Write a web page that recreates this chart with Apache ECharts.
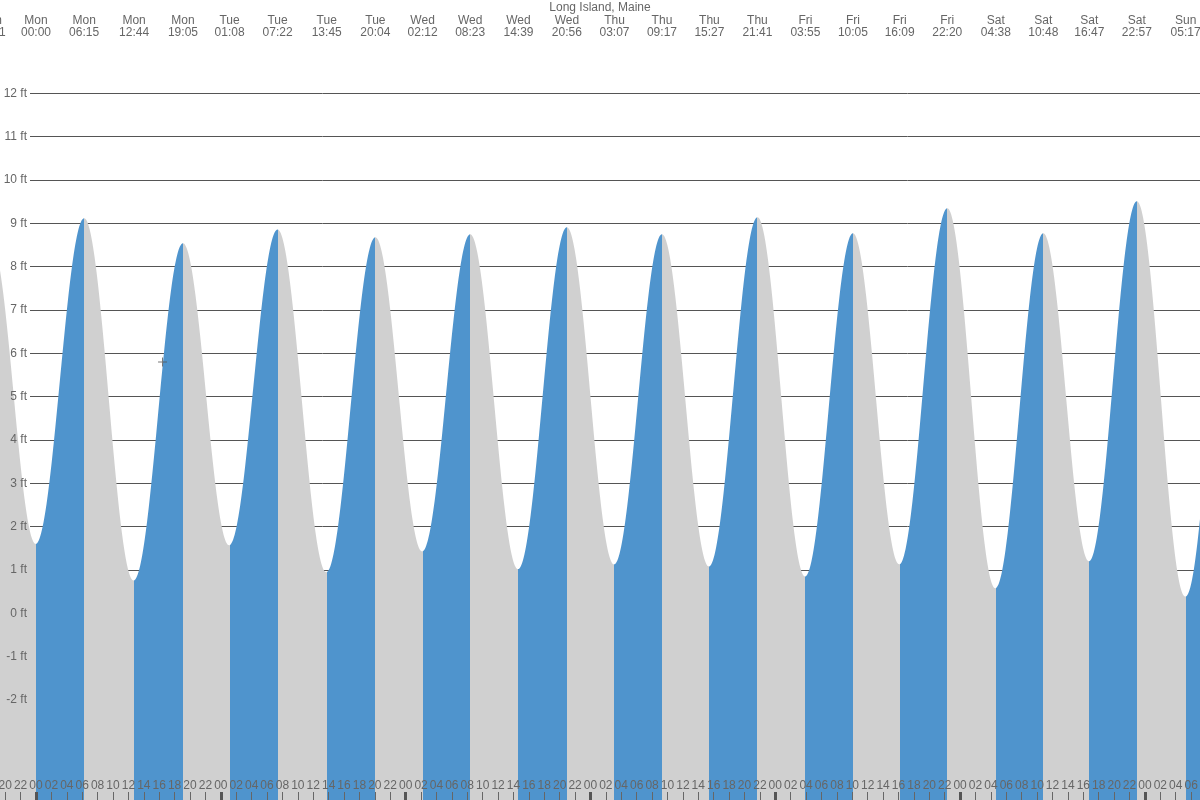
<!DOCTYPE html>
<html><head><meta charset="utf-8">
<script src="https://cdn.jsdelivr.net/npm/echarts@6/dist/echarts.min.js"></script>
<style>html,body{margin:0;padding:0;background:#fff}#c{width:1200px;height:800px}</style>
</head><body><div id="c"></div>
<script>
// ---- data (first and last entries lie outside the visible window) ----
const chartTitle = 'Long Island, Maine';
const tideDays    = ['Sun','Sun','Mon','Mon','Mon','Mon','Tue','Tue','Tue','Tue','Wed','Wed','Wed','Wed','Thu','Thu','Thu','Thu','Fri','Fri','Fri','Fri','Sat','Sat','Sat','Sat','Sun','Sun','Sun'];
const tideTimes   = ['11:50','18:11','00:00','06:15','12:44','19:05','01:08','07:22','13:45','20:04','02:12','08:23','14:39','20:56','03:07','09:17','15:27','21:41','03:55','10:05','16:09','22:20','04:38','10:48','16:47','22:57','05:17','11:30','17:45'];
const tideHeights = [1.0, 8.57, 1.6, 9.12, 0.76, 8.54, 1.57, 8.86, 0.95, 8.68, 1.43, 8.75, 1.02, 8.91, 1.13, 8.75, 1.08, 9.14, 0.85, 8.77, 1.13, 9.35, 0.58, 8.77, 1.2, 9.51, 0.39, 9.0, 1.3];
const heightTicks = [-2,-1,0,1,2,3,4,5,6,7,8,9,10,11,12];
const nowMarker = [16.43, 5.8];          // [hours from Mon 00:00, ft]
const hourStart = -4.675, hourEnd = 151.15; // visible window, hours from Mon 00:00
const heightMin = -4.308, heightMax = 12;

// ---- derived ----
const dayOrder = ['Sun','Mon','Tue','Wed','Thu','Fri','Sat','Sun'];
let dayPtr = 0;
const tideHours = tideDays.map((d, i) => {
  while (dayOrder[dayPtr] !== d) dayPtr++;
  const [hh, mm] = tideTimes[i].split(':').map(Number);
  return (dayPtr - 1) * 24 + hh + mm / 60;
});
const labelByMinute = {};
tideHours.forEach((h, i) => { labelByMinute[Math.round(h * 60)] = tideDays[i] + '\n' + tideTimes[i]; });
const seriesData = tideHours.map((h, i) => [h, tideHeights[i]]);

const hourTicks = [];
for (let h = Math.ceil(hourStart / 2) * 2; h <= hourEnd; h += 2) hourTicks.push(h);
const midnightTicks = hourTicks.filter(h => ((h % 24) + 24) % 24 === 0);

const BLUE = '#4F94CD', GRAY = '#D0D0D0';
const pieces = [];
for (let i = 0; i < tideHours.length - 1; i++) {
  pieces.push({ gte: tideHours[i], lt: tideHours[i + 1], color: tideHeights[i] < tideHeights[i + 1] ? BLUE : GRAY });
}

const W = 1200;
const pxPerHour = W / (hourEnd - hourStart);
const labelPad = 40; // lets a label just left of the window be partly drawn, as in the reference

const FONT = 'Liberation Sans, Arial, sans-serif';
const TXT = '#666';
const G = { top: 93.33, bottom: 0, right: 0, outerBoundsMode: 'none', containLabel: false };
const hiddenX = gi => ({ type: 'value', gridIndex: gi, min: hourStart, max: hourEnd, show: false });
const hiddenY = gi => ({ type: 'value', gridIndex: gi, min: heightMin, max: heightMax, show: false });

const chart = echarts.init(document.getElementById('c'), null, { renderer: 'canvas' });
chart.setOption({
  animation: false,
  backgroundColor: '#fff',
  title: { text: chartTitle, left: 'center', top: 2, padding: 0,
    textStyle: { fontSize: 12, fontWeight: 'normal', color: TXT, fontFamily: FONT, lineHeight: 12 } },
  grid: [
    Object.assign({ left: 30 }, G),          // 0: gridlines
    Object.assign({ left: 0 }, G),           // 1: data, hour labels
    Object.assign({ left: 0 }, G),           // 2: midnight ticks
    Object.assign({ left: 30 }, G),          // 3: height labels
    Object.assign({ left: -labelPad }, G)    // 4: extreme labels
  ],
  xAxis: [
    hiddenX(0),
    { type: 'value', gridIndex: 1, min: hourStart, max: hourEnd, position: 'bottom', z: 10,
      axisLine: { show: false, onZero: false }, splitLine: { show: false },
      axisTick: { show: true, inside: true, length: 8, customValues: hourTicks, lineStyle: { color: '#666', width: 1 } },
      axisLabel: { show: true, inside: true, margin: 8, customValues: hourTicks, fontSize: 12, lineHeight: 12, color: TXT, fontFamily: FONT,
        formatter: v => { const h = ((Math.round(v) % 24) + 24) % 24; return (h < 10 ? '0' : '') + h; } } },
    hiddenX(4 - 3), // placeholder hidden axis on grid 1 (kept for index stability)
    { type: 'value', gridIndex: 2, min: hourStart, max: hourEnd, position: 'bottom', z: 11,
      axisLine: { show: false, onZero: false }, splitLine: { show: false }, axisLabel: { show: false },
      axisTick: { show: true, inside: true, length: 8, customValues: midnightTicks, lineStyle: { color: '#555', width: 3 } } },
    hiddenX(3),
    { type: 'value', gridIndex: 4, min: hourStart - labelPad / pxPerHour, max: hourEnd, position: 'top', z: 10,
      axisLine: { show: false, onZero: false }, splitLine: { show: false }, axisTick: { show: false },
      axisLabel: { show: true, margin: 55, customValues: tideHours, fontSize: 12, lineHeight: 12, color: TXT, fontFamily: FONT, align: 'center',
        formatter: v => labelByMinute[Math.round(v * 60)] || '' } }
  ],
  yAxis: [
    { type: 'value', gridIndex: 0, min: heightMin, max: heightMax, z: 0,
      axisLine: { show: false, onZero: false },
      axisTick: { show: false, customValues: heightTicks },
      axisLabel: { show: false, customValues: heightTicks },
      splitLine: { show: true, lineStyle: { color: '#555', width: 1 } } },
    hiddenY(1),
    hiddenY(2),
    { type: 'value', gridIndex: 3, min: heightMin, max: heightMax, z: 10,
      axisLine: { show: false, onZero: false }, splitLine: { show: false },
      axisTick: { show: false, customValues: heightTicks },
      axisLabel: { customValues: heightTicks, margin: 3, fontSize: 12, color: TXT, fontFamily: FONT, formatter: v => v + ' ft' } },
    hiddenY(4)
  ],
  visualMap: {
    type: 'piecewise', show: false, dimension: 0, seriesIndex: 0, pieces: pieces, outOfRange: { color: GRAY }
  },
  series: [
    { type: 'line', xAxisIndex: 1, yAxisIndex: 1, data: seriesData, smooth: 0.36, smoothMonotone: 'x',
      showSymbol: false, silent: true, lineStyle: { opacity: 0 },
      areaStyle: { origin: 'start', opacity: 1 }, z: 3 },
    { type: 'scatter', xAxisIndex: 1, yAxisIndex: 1, data: [nowMarker], silent: true,
      symbol: 'path://M4,0L5,0L5,9L4,9Z M0,4L9,4L9,5L0,5Z', symbolSize: 9,
      itemStyle: { color: '#555' }, z: 5 }
  ]
});
</script></body></html>
